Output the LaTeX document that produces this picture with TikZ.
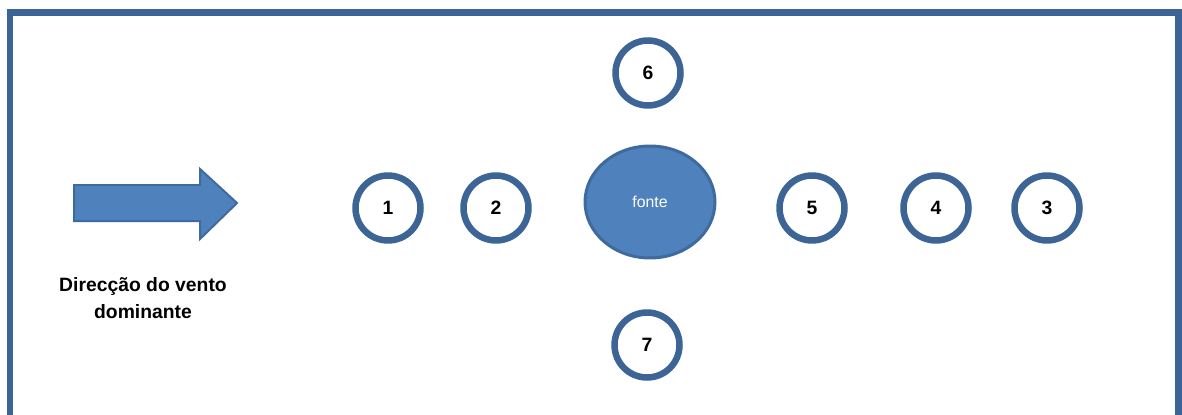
\documentclass[tikz,border=0pt]{standalone}
\usepackage{fontspec}
\setmainfont{Liberation Sans}
\definecolor{ringblue}{HTML}{3C6494}
\definecolor{fillblue}{HTML}{4F81BD}
\definecolor{edgeblue}{HTML}{3F6A9E}
\tikzset{
  ponto/.style={draw=ringblue,line width=0.13cm,circle,minimum size=1.3cm,fill=white,font=\fontsize{11}{13}\selectfont\bfseries},
  fonte/.style={draw=edgeblue,line width=0.06cm,ellipse,fill=fillblue,minimum width=2.6cm,minimum height=2.24cm,text=white,font=\fontsize{9}{11}\selectfont},
}
\usetikzlibrary{shapes.geometric}
\begin{document}
\begin{tikzpicture}[x=0.02cm,y=-0.02cm]
\useasboundingbox (0,0) rectangle (1182,415);

% moldura
\draw[ringblue,line width=0.14cm] (10,430) -- (10,13) -- (1178,13) -- (1178,430);

% vento
\draw[edgeblue,line width=0.04cm,fill=fillblue,line join=miter]
  (74,185) -- (200,185) -- (200,169) -- (237,203) -- (200,239) -- (200,221) -- (74,221) -- cycle;
\node[align=center,font=\fontsize{11}{15}\selectfont\bfseries] (vento) at (143,298) {Direcção do vento\\dominante};

\node[fonte] (src) at (650,202) {fonte};

\node[ponto] (p1) at (388,208) {1};
\node[ponto] (p2) at (496,208) {2};
\node[ponto] (p5) at (812,208) {5};
\node[ponto] (p4) at (936,208) {4};
\node[ponto] (p3) at (1047,208) {3};
\node[ponto] (p6) at (648,73) {6};
\node[ponto] (p7) at (647,345) {7};

\end{tikzpicture}
\end{document}
